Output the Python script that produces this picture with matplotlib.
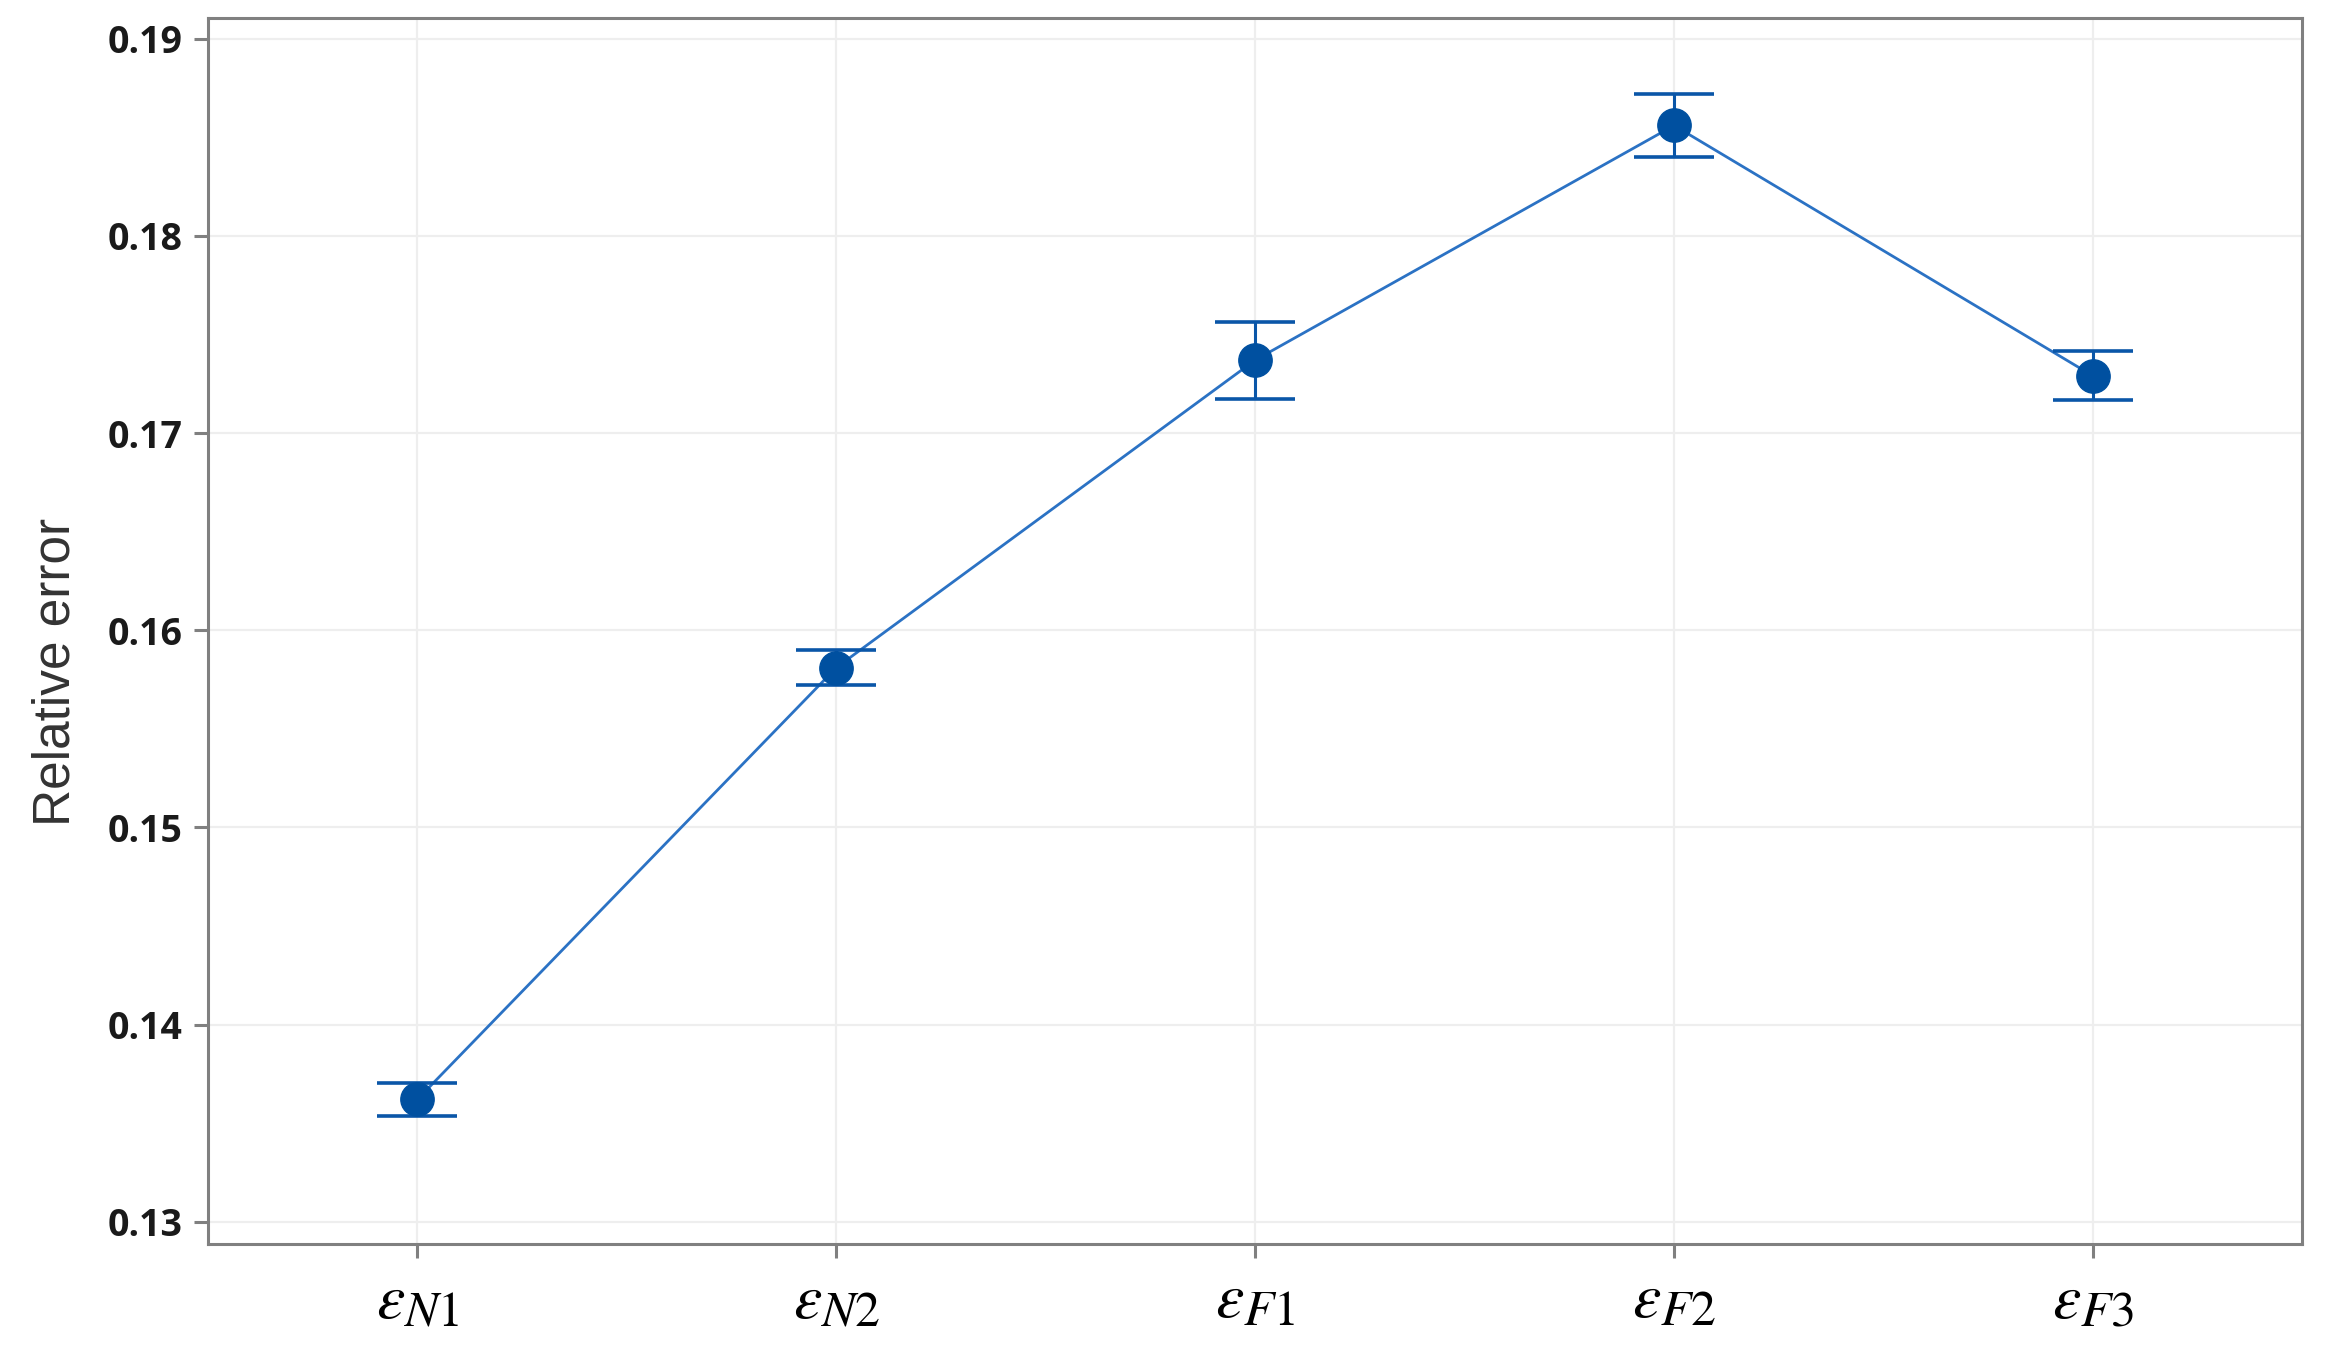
import matplotlib.pyplot as plt
import matplotlib._mathtext as mathtext_internal

labels = [r'$\varepsilon_{N1}$', r'$\varepsilon_{N2}$', r'$\varepsilon_{F1}$',
          r'$\varepsilon_{F2}$', r'$\varepsilon_{F3}$']
means = [0.1362, 0.1581, 0.1737, 0.1856, 0.1729]
errors = [0.00083, 0.0009, 0.00195, 0.0016, 0.00124]
yticks = [0.13, 0.14, 0.15, 0.16, 0.17, 0.18, 0.19]

plt.rcParams['mathtext.fontset'] = 'stix'
# subscripts in the original are a bit bigger than the default
mathtext_internal.SHRINK_FACTOR = 0.78

fig = plt.figure(figsize=(23.28, 13.57), dpi=100)
ax = fig.add_axes([0.0893, 0.0833, 0.8997, 0.9034])

x = list(range(len(means)))
ax.plot(x, means, color='#2B72C4', linewidth=2.0, zorder=2)
ax.errorbar(x, means, yerr=errors, fmt='none', ecolor='#0A56A8',
            elinewidth=2.2, capsize=29, capthick=2.6, zorder=3)
ax.plot(x, means, 'o', color='#0050A0', markersize=24, zorder=4)

ax.set_xlim(-0.5, 4.5)
ax.set_ylim(0.12887, 0.19105)
ax.set_xticks(x)
ax.set_xticklabels(labels, fontsize=46)
ax.set_yticks(yticks)
ax.set_yticklabels(['%.2f' % v for v in yticks], fontsize=27,
                   family='Open Sans', fontweight='bold', color='#1a1a1a')
ax.set_ylabel('Relative error', fontsize=37, family='Liberation Sans',
              color='#333333')
ax.yaxis.set_label_coords(-0.061, 0.467)

ax.grid(True, color='#EEEEEE', linewidth=1.6)
ax.set_axisbelow(True)
for s in ax.spines.values():
    s.set_color('#808080')
    s.set_linewidth(2.2)
ax.tick_params(axis='both', color='#808080', width=2.2, length=10)
ax.tick_params(axis='x', pad=8)
ax.tick_params(axis='y', pad=8)

fig.savefig('out.png', dpi=100)
